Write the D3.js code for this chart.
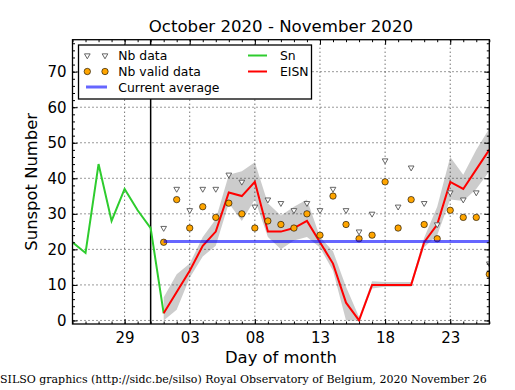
<!DOCTYPE html>
<html>
<head>
<meta charset="utf-8">
<script src="https://cdn.jsdelivr.net/npm/d3@7.9.0/dist/d3.min.js"></script>
<style>
  body { margin: 0; background: #fff; }
  svg { display: block; font-family: "DejaVu Sans", sans-serif; }
  .axis path { display: none; }
  .axis line { stroke: #000; stroke-width: 1; }
  .grid line { stroke: #000; stroke-width: 0.8; stroke-dasharray: 1,3; }
</style>
</head>
<body>
<svg id="chart" width="515" height="390"></svg>
<script>
// values
const snDays = ['2020-10-25','2020-10-26','2020-10-27','2020-10-28','2020-10-29','2020-10-30','2020-10-31','2020-11-01'];
const snValues = [22, 19, 44, 28, 37, 31, 26, 2];

const novDays = d3.range(1, 27); // Nov 1 .. Nov 26
const eisnValues = [2, 8, 14, 21, 25, 36, 35, 39, 25, 25, 26, 28, 22, 16, 5, 0, 10, 10, 10, 10, 22, 27, 39, 37, 42.5, 48];
const eisnUpper = [6.5, 13, 16, 23.5, 28.5, 41, 42, 44.5, 33, 29.5, 32, 34, 23.5, 19.5, 9.5, 1, 11, 10.8, 10.8, 10.8, 23.3, 32, 46, 41, 48, 54];
const eisnLower = [0, 3, 12, 18, 21, 33, 28, 34, 23.5, 20, 22.5, 23.5, 20.5, 14, 0, 0, 9, 9.5, 9.5, 9.5, 20.6, 24, 34, 33.6, 37, 42];
const nbData = [26, 37, 31, 37, 37, 41, 39, 32, 34, 33, 31, 33, 31, 37, 31, 25, 30, 45, 32, 43, 33, 27, 36, 34, 36, 16];
const nbValid = [22, 34, 26, 32, 29, 33, 30, 26, 28, 27, 26, 30, 24, 35, 27, 23, 24, 39, 26, 34, 27, 23, 31, 29, 29, 13];
const currentAverage = 22.2;

const yTicks = [0, 10, 20, 30, 40, 50, 60, 70];
const xTickDays = ['2020-10-29','2020-11-03','2020-11-08','2020-11-13','2020-11-18','2020-11-23'];

const parse = d3.utcParse('%Y-%m-%d');
const novDate = d => new Date(Date.UTC(2020, 10, d));

let svg = d3.select('#chart');
let pL = 72.5, pR = 489.3, pT = 39.7, pB = 324;

let x = d3.scaleUtc().domain([parse('2020-10-25'), parse('2020-11-26')]).range([pL, pR]);
let y = d3.scaleLinear().domain([-1, 79]).range([pB, pT]);

let majorX = xTickDays.map(parse);
let minorX = d3.utcDay.range(parse('2020-10-25'), parse('2020-11-27'));
let minorY = d3.range(0, 80, 2);

svg.append('defs').append('clipPath').attr('id', 'plot')
  .append('rect').attr('x', pL).attr('y', pT).attr('width', pR - pL).attr('height', pB - pT);

// grid
let grid = svg.append('g').attr('class', 'grid');
grid.selectAll('.gx').data(majorX).enter().append('line')
  .attr('x1', d => x(d)).attr('x2', d => x(d)).attr('y1', pT).attr('y2', pB);
grid.selectAll('.gy').data(yTicks).enter().append('line')
  .attr('x1', pL).attr('x2', pR).attr('y1', d => y(d)).attr('y2', d => y(d));

let plot = svg.append('g').attr('clip-path', 'url(#plot)');

// error band
let band = novDays.map((d, i) => ({ date: novDate(d), lo: eisnLower[i], hi: eisnUpper[i] }));
plot.append('path').datum(band)
  .attr('d', d3.area().x(d => x(d.date)).y0(d => y(d.lo)).y1(d => y(d.hi)))
  .attr('fill', '#000').attr('fill-opacity', 0.2);

// month boundary
plot.append('line')
  .attr('x1', x(parse('2020-10-31'))).attr('x2', x(parse('2020-10-31')))
  .attr('y1', pT).attr('y2', pB)
  .attr('stroke', '#000').attr('stroke-width', 1.5);

let line = d3.line().x(d => x(d[0])).y(d => y(d[1]));

plot.append('path').datum(snDays.map((d, i) => [parse(d), snValues[i]]))
  .attr('d', line).attr('fill', 'none').attr('stroke', '#2ecc2e').attr('stroke-width', 2);

plot.append('path').datum(novDays.map((d, i) => [novDate(d), eisnValues[i]]))
  .attr('d', line).attr('fill', 'none').attr('stroke', '#ff0000').attr('stroke-width', 2);

// station counts
let tri = d3.symbol().type(d3.symbolTriangle).size(14);
plot.selectAll('.nb').data(novDays).enter().append('path')
  .attr('d', tri)
  .attr('transform', (d, i) => `translate(${x(novDate(d))},${y(nbData[i])}) rotate(180)`)
  .attr('fill', '#fff').attr('stroke', '#555').attr('stroke-width', 0.9);

plot.selectAll('.nbv').data(novDays).enter().append('circle')
  .attr('cx', d => x(novDate(d))).attr('cy', (d, i) => y(nbValid[i])).attr('r', 3.2)
  .attr('fill', '#ffa500').attr('stroke', '#000').attr('stroke-width', 0.6);

// current average
plot.append('line')
  .attr('x1', x(novDate(1))).attr('x2', pR)
  .attr('y1', y(currentAverage)).attr('y2', y(currentAverage))
  .attr('stroke', '#0000ff').attr('stroke-opacity', 0.6).attr('stroke-width', 3);

// axes with inward ticks
let fmt = d3.utcFormat('%d');
svg.append('g').attr('class', 'axis').attr('transform', `translate(0,${pB})`)
  .call(d3.axisBottom(x).tickValues(minorX).tickSize(-2.5).tickFormat(''));
svg.append('g').attr('class', 'axis').attr('transform', `translate(0,${pB})`)
  .call(d3.axisBottom(x).tickValues(majorX).tickSize(-5).tickPadding(8).tickFormat(fmt))
  .selectAll('text').attr('font-size', 15).attr('font-family', 'DejaVu Sans').attr('fill', '#000').attr('dy', '0.71em');
svg.append('g').attr('class', 'axis').attr('transform', `translate(0,${pT})`)
  .call(d3.axisTop(x).tickValues(minorX).tickSize(-2.5).tickFormat(''));
svg.append('g').attr('class', 'axis').attr('transform', `translate(0,${pT})`)
  .call(d3.axisTop(x).tickValues(majorX).tickSize(-5).tickFormat(''));

svg.append('g').attr('class', 'axis').attr('transform', `translate(${pL},0)`)
  .call(d3.axisLeft(y).tickValues(minorY).tickSize(-2.5).tickFormat(''));
svg.append('g').attr('class', 'axis').attr('transform', `translate(${pL},0)`)
  .call(d3.axisLeft(y).tickValues(yTicks).tickSize(-5).tickPadding(6).tickFormat(d3.format('d')))
  .selectAll('text').attr('font-size', 15).attr('font-family', 'DejaVu Sans').attr('fill', '#000');
svg.append('g').attr('class', 'axis').attr('transform', `translate(${pR},0)`)
  .call(d3.axisRight(y).tickValues(minorY).tickSize(-2.5).tickFormat(''));
svg.append('g').attr('class', 'axis').attr('transform', `translate(${pR},0)`)
  .call(d3.axisRight(y).tickValues(yTicks).tickSize(-5).tickFormat(''));

svg.append('rect').attr('x', pL).attr('y', pT).attr('width', pR - pL).attr('height', pB - pT)
  .attr('fill', 'none').attr('stroke', '#000').attr('stroke-width', 1.3);

// legend
let lg = svg.append('g');
lg.append('rect').attr('x', 78.5).attr('y', 45).attr('width', 233).attr('height', 54)
  .attr('fill', '#fff').attr('stroke', '#000').attr('stroke-width', 1.3);
let lgText = (t, tx, ty) => lg.append('text').attr('x', tx).attr('y', ty).attr('font-size', 12.4).text(t);
[87.3, 105].forEach(px => {
  lg.append('path').attr('d', tri).attr('transform', `translate(${px},55.5) rotate(180)`)
    .attr('fill', '#fff').attr('stroke', '#555').attr('stroke-width', 0.9);
  lg.append('circle').attr('cx', px).attr('cy', 71.5).attr('r', 3.2)
    .attr('fill', '#ffa500').attr('stroke', '#000').attr('stroke-width', 0.6);
});
lg.append('line').attr('x1', 86).attr('x2', 107).attr('y1', 87).attr('y2', 87)
  .attr('stroke', '#0000ff').attr('stroke-opacity', 0.6).attr('stroke-width', 3);
lg.append('line').attr('x1', 248).attr('x2', 267).attr('y1', 55.5).attr('y2', 55.5)
  .attr('stroke', '#2ecc2e').attr('stroke-width', 2);
lg.append('line').attr('x1', 248).attr('x2', 267).attr('y1', 71.5).attr('y2', 71.5)
  .attr('stroke', '#ff0000').attr('stroke-width', 2);
lgText('Nb data', 118.3, 60);
lgText('Nb valid data', 118.3, 76);
lgText('Current average', 118.3, 91.5);
lgText('Sn', 280, 60);
lgText('EISN', 280, 76);

// titles
svg.append('text').attr('x', (pL + pR) / 2).attr('y', 32).attr('text-anchor', 'middle')
  .attr('font-size', 16.6).text('October 2020 - November 2020');
svg.append('text').attr('x', (pL + pR) / 2).attr('y', 362.5).attr('text-anchor', 'middle')
  .attr('font-size', 16.4).text('Day of month');
svg.append('text').attr('transform', `translate(37,${(pT + pB) / 2}) rotate(-90)`).attr('text-anchor', 'middle')
  .attr('font-size', 16.4).text('Sunspot Number');
svg.append('text').attr('x', 0).attr('y', 382.5).attr('font-family', '"DejaVu Serif", serif')
  .attr('font-size', 11).text('SILSO graphics (http://sidc.be/silso) Royal Observatory of Belgium, 2020 November 26');
</script>
</body>
</html>
